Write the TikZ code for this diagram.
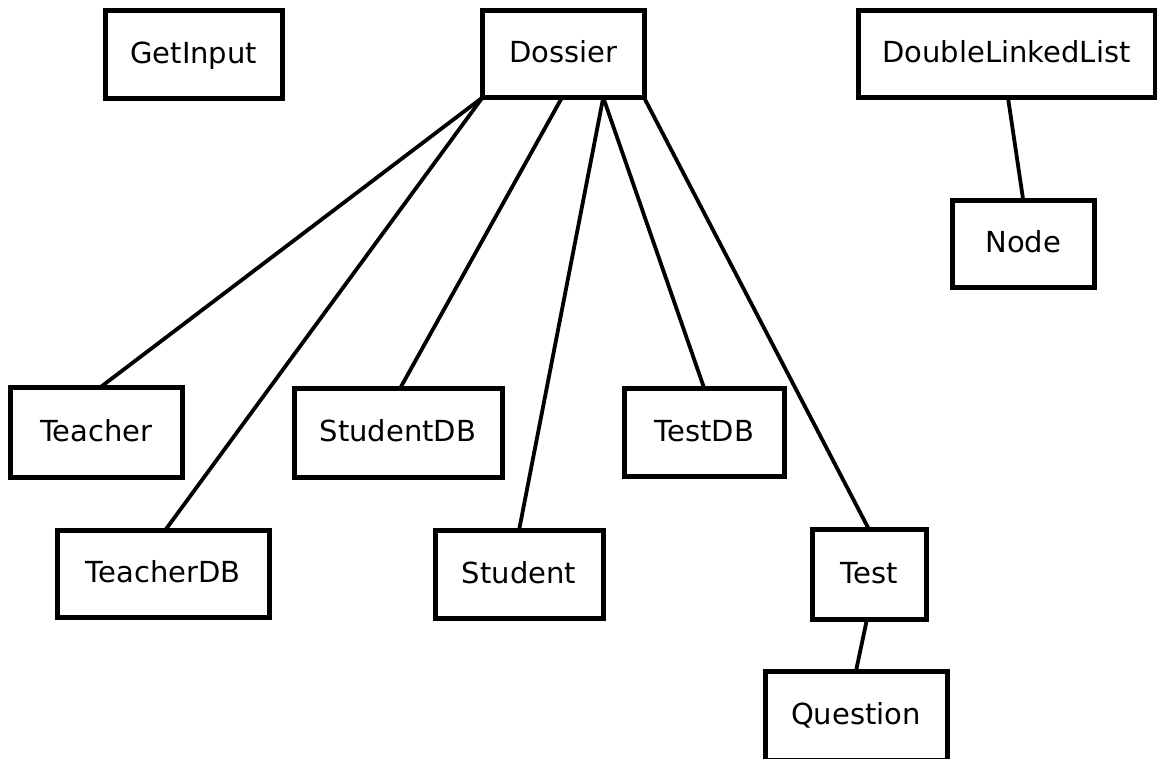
\documentclass[tikz,border=0pt]{standalone}
\usepackage{fontspec}
\setmainfont{DejaVu Sans}
\begin{document}
\begin{tikzpicture}[x=1pt,y=-1pt,
  box/.style={draw=black,line width=5pt,fill=white,inner sep=0pt,outer sep=0pt,
    font=\fontsize{29}{35}\selectfont,text height=21pt,text depth=3.5pt},
  link/.style={draw=black,line width=3.8pt}]
\useasboundingbox[fill=white] (0,0) rectangle (1157,759);
% nodes
\node[box,minimum width=177.5pt,minimum height=87.5pt] (getinput) at (193.75,54.75) {GetInput};
\node[box,minimum width=161.5pt,minimum height=87pt] (dossier) at (563.25,54) {Dossier};
\node[box,minimum width=297pt,minimum height=87.5pt] (dll) at (1006.5,54) {DoubleLinkedList};
\node[box,minimum width=141.5pt,minimum height=87pt] (nodebox) at (1023.25,244) {Node};
\node[box,minimum width=171.5pt,minimum height=89.5pt] (teacher) at (96.25,432.25) {Teacher};
\node[box,minimum width=208pt,minimum height=88.5pt] (studentdb) at (398,432.75) {StudentDB};
\node[box,minimum width=160.5pt,minimum height=88pt] (testdb) at (704.25,432.5) {TestDB};
\node[box,minimum width=211.5pt,minimum height=87pt] (teacherdb) at (163.25,574) {TeacherDB};
\node[box,minimum width=168pt,minimum height=87.5pt] (student) at (519,574.25) {Student};
\node[box,minimum width=114pt,minimum height=89.5pt] (test) at (869,574.25) {Test};
\node[box,minimum width=182pt,minimum height=89pt] (question) at (856,715.5) {Question};
% connectors
\draw[link] (dossier.south west) -- ([xshift=89.5pt]teacher.north west);
\draw[link] (dossier.south west) -- ([xshift=107.5pt]teacherdb.north west);
\draw[link] ([xshift=79.5pt]dossier.south west) -- ([xshift=106pt]studentdb.north west);
\draw[link] ([xshift=40pt]dossier.south) -- (student.north);
\draw[link] ([xshift=40pt]dossier.south) -- (testdb.north);
\draw[link] (dossier.south east) -- (test.north);
\draw[link] ([xshift=-2pt]test.south) -- (question.north);
\draw[link] ([xshift=1.5pt]dll.south) -- (nodebox.north);
\end{tikzpicture}
\end{document}
